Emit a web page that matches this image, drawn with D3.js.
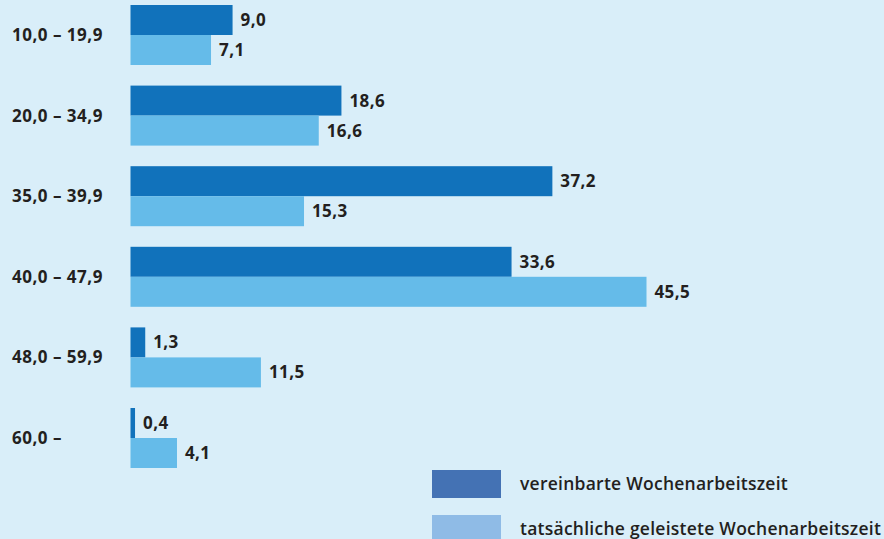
<!DOCTYPE html>
<html>
<head>
<meta charset="utf-8">
<script src="https://cdn.jsdelivr.net/npm/d3@7"></script>
<style>
  body { margin: 0; background: #d9eef9; }
  svg { display: block; font-family: "Open Sans", "Noto Sans", sans-serif; }
</style>
</head>
<body>
<div id="container"></div>
<script>
// data
var categories = ["10,0 \u2013 19,9", "20,0 \u2013 34,9", "35,0 \u2013 39,9",
                  "40,0 \u2013 47,9", "48,0 \u2013 59,9", "60,0 \u2013"];
var vereinbart  = [9.0, 18.6, 37.2, 33.6, 1.3, 0.4];
var tatsaechlich = [7.1, 16.6, 15.3, 45.5, 11.5, 4.1];
var seriesNames = ["vereinbarte Wochenarbeitszeit", "tatsächliche geleistete Wochenarbeitszeit"];

var width = 884, height = 539;
var colors = ["#1172bb", "#65bbe9"];
var legendColors = ["#4472b4", "#8fbbe6"];

var svg = d3.select("#container")
  .append("svg")
  .attr("width", width)
  .attr("height", height);

svg.append("rect")
  .attr("width", width)
  .attr("height", height)
  .attr("fill", "#d9eef9");

var rows = categories.map(function(c, i) {
  return {cat: c, values: [vereinbart[i], tatsaechlich[i]]};
});

// groups every ~80.6px, bars 30px high
var y = d3.scaleBand()
  .domain(categories)
  .range([5, 468])
  .paddingInner(0.2556)
  .paddingOuter(0);

var y1 = d3.scaleBand()
  .domain([0, 1])
  .range([0, y.bandwidth()]);

var x = d3.scaleLinear()
  .domain([0, 45.5])
  .range([130.5, 646.5]);

var fmt = function(v) { return d3.format(".1f")(v).replace(".", ","); };

var group = svg.append("g").selectAll("g.group")
  .data(rows)
  .enter().append("g")
  .attr("class", "group")
  .attr("transform", function(d) { return "translate(0," + y(d.cat) + ")"; });

group.append("text")
  .attr("x", 12)
  .attr("y", y.bandwidth() / 2)
  .attr("dy", "0.35em")
  .attr("font-size", 17)
  .attr("font-weight", "bold")
  .attr("letter-spacing", 0.5)
  .attr("fill", "#231f20")
  .text(function(d) { return d.cat; });

var bars = group.selectAll("g.bar")
  .data(function(d) { return d.values; })
  .enter().append("g")
  .attr("class", "bar");

bars.append("rect")
  .attr("x", x(0))
  .attr("y", function(d, i) { return y1(i); })
  .attr("width", function(d) { return x(d) - x(0); })
  .attr("height", y1.bandwidth())
  .attr("fill", function(d, i) { return colors[i]; });

bars.append("text")
  .attr("x", function(d) { return x(d) + 8; })
  .attr("y", function(d, i) { return y1(i) + y1.bandwidth() / 2; })
  .attr("dy", "0.35em")
  .attr("font-size", 17)
  .attr("font-weight", "bold")
  .attr("letter-spacing", 0.4)
  .attr("fill", "#231f20")
  .text(function(d) { return fmt(d); });

// legend
var legend = svg.append("g")
  .selectAll("g")
  .data(seriesNames)
  .enter().append("g")
  .attr("transform", function(d, i) { return "translate(432," + (470 + i * 45) + ")"; });

legend.append("rect")
  .attr("width", 69)
  .attr("height", 28)
  .attr("fill", function(d, i) { return legendColors[i]; });

legend.append("text")
  .attr("x", 88)
  .attr("y", 14)
  .attr("dy", "0.35em")
  .attr("font-size", 17.5)
  .attr("font-weight", 600)
  .attr("letter-spacing", 0.25)
  .attr("fill", "#231f20")
  .text(function(d) { return d; });
</script>
</body>
</html>
